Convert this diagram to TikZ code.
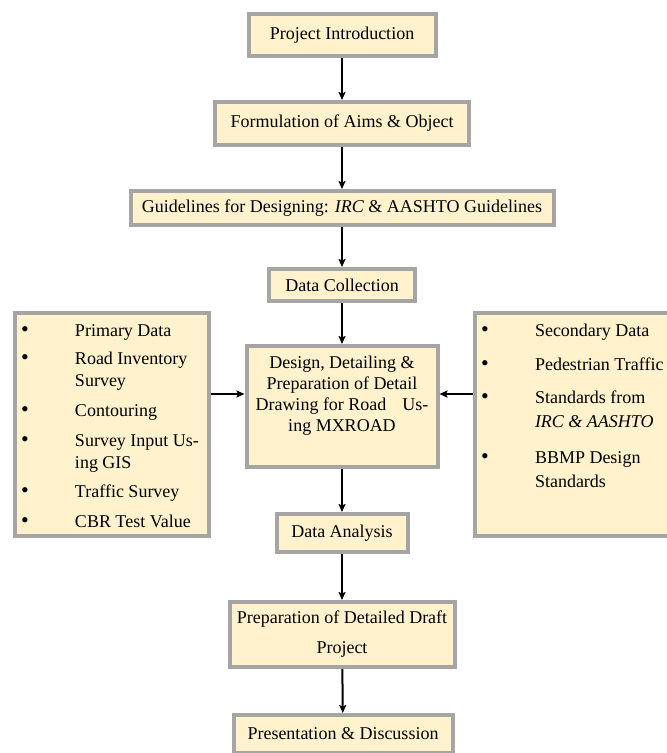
\documentclass[tikz,border=0pt]{standalone}
\usepackage{fontspec}
\setmainfont{Liberation Serif}
\usetikzlibrary{arrows.meta}
\definecolor{boxfill}{HTML}{FFF2CC}
\definecolor{boxgray}{HTML}{A5A5A5}
\newcommand{\listdot}{{\fontsize{22}{22}\selectfont\textbullet}}

\begin{document}
\begin{tikzpicture}[x=1pt, y=-1pt,
	flowbox/.style={shape=rectangle, draw=boxgray, line width=4pt, fill=boxfill, inner sep=0pt, align=center, font=\fontsize{18}{21}\selectfont},
	listbox/.style={flowbox, align=left},
	arrowline/.style={-{Stealth[length=8pt, width=7pt, inset=1.5pt]}, line width=2pt, black}]
	\useasboundingbox (0,0) rectangle (667,753);

	\draw (342,35) node[flowbox, minimum width=187pt, minimum height=42pt](intro){Project Introduction};
	\draw (342,123.5) node[flowbox, minimum width=254pt, minimum height=43pt](aims){Formulation of Aims \& Object};
	\draw (342,208) node[flowbox, minimum width=423pt, minimum height=34pt](guide){Guidelines for Designing: \textit{IRC} \& AASHTO Guidelines};
	\draw (342,285) node[flowbox, minimum width=146pt, minimum height=32pt](collect){Data Collection};

	\draw (342,406.5) node[flowbox, minimum width=191pt, minimum height=121pt](design){\parbox[c][121pt][t]{191pt}{\centering\vspace*{10pt}Design, Detailing \&\\Preparation of Detail\\Drawing for Road\hspace{16pt}Us-\\ing MXROAD}};

	\draw (112,424.5) node[listbox, minimum width=194pt, minimum height=223pt, font=\fontsize{18}{22}\selectfont](primary){\begin{minipage}[c][223pt][t]{194pt}\vspace*{7.6pt}\hspace*{6pt}\begin{tabular}{@{}p{42pt}l@{}}
		\listdot & Primary Data\\[6pt]
		\listdot & Road Inventory\\
		 & Survey\\[8pt]
		\listdot & Contouring\\[8pt]
		\listdot & Survey Input Us-\\
		 & ing GIS\\[7pt]
		\listdot & Traffic Survey\\[8pt]
		\listdot & CBR Test Value
	\end{tabular}\end{minipage}};

	\draw (572,424.5) node[listbox, minimum width=194pt, minimum height=223pt, font=\fontsize{18}{24}\selectfont](secondary){\begin{minipage}[c][223pt][t]{194pt}\vspace*{7pt}\hspace*{6pt}\begin{tabular}{@{}p{42pt}l@{}}
		\listdot & Secondary Data\\[10pt]
		\listdot & Pedestrian Traffic\\[9pt]
		\listdot & Standards from\\
		 & \textit{IRC \& AASHTO}\\[12pt]
		\listdot & BBMP Design\\
		 & Standards
	\end{tabular}\end{minipage}};

	\draw (342,533) node[flowbox, minimum width=131pt, minimum height=38pt](analysis){Data Analysis};
	\draw (342,634.5) node[flowbox, minimum width=225pt, minimum height=65pt](draft){Preparation of Detailed Draft\\[9pt]Project};
	\draw (343,734) node[flowbox, minimum width=219pt, minimum height=38pt](present){Presentation \& Discussion};

	\coordinate (inL) at ([yshift=12.5pt]design.west);
	\coordinate (inR) at ([yshift=12.5pt]design.east);

	\draw[arrowline] (intro) -- (aims);
	\draw[arrowline] (aims) -- (guide);
	\draw[arrowline] (guide) -- (collect);
	\draw[arrowline] (collect) -- (design);
	\draw[arrowline] (primary.east |- inL) -- (inL);
	\draw[arrowline] (secondary.west |- inR) -- (inR);
	\draw[arrowline] (design) -- (analysis);
	\draw[arrowline] (analysis) -- (draft);
	\draw[arrowline] (draft) -- (present);
\end{tikzpicture}
\end{document}
